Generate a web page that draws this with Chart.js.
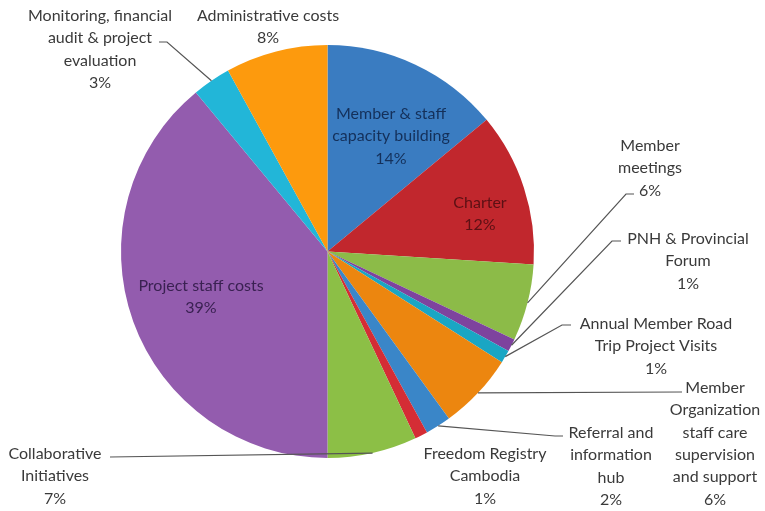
<!DOCTYPE html>
<html>
<head>
<meta charset="utf-8">
<script src="https://cdn.jsdelivr.net/npm/chart.js@4.4.1/dist/chart.umd.min.js"></script>
<style>
    html, body { margin: 0; padding: 0; background: #fff; }
    #wrap { width: 765px; height: 511px; }
</style>
</head>
<body>
<div id="wrap"><canvas id="budget"></canvas></div>
<script>
// budget split, clockwise from 12 o'clock
const categories = [
    'Member & staff capacity building',
    'Charter',
    'Member meetings',
    'PNH & Provincial Forum',
    'Annual Member Road Trip Project Visits',
    'Member Organization staff care supervision and support',
    'Referral and information hub',
    'Freedom Registry Cambodia',
    'Collaborative Initiatives',
    'Project staff costs',
    'Monitoring, financial audit & project evaluation',
    'Administrative costs'
];
const shares = [14, 12, 6, 1, 1, 6, 2, 1, 7, 39, 3, 8];

const sliceColors = [
    '#3a7cc1', '#c1272d', '#8cbb48', '#7e439e', '#1aa6c4', '#ec860f',
    '#3a86c8', '#d42d35', '#8cbf46', '#935cae', '#22b6d8', '#fd9a0d'
];

// how each label wraps on the page
const labelLines = [
    ['Member & staff', 'capacity building'],
    ['Charter'],
    ['Member', 'meetings'],
    ['PNH & Provincial', 'Forum'],
    ['Annual Member Road', 'Trip Project Visits'],
    ['Member', 'Organization', 'staff care', 'supervision', 'and support'],
    ['Referral and', 'information', 'hub'],
    ['Freedom Registry', 'Cambodia'],
    ['Collaborative', 'Initiatives'],
    ['Project staff costs'],
    ['Monitoring, financial', 'audit & project', 'evaluation'],
    ['Administrative costs']
];

// label placement: centre x, first line y, text colour, leader path after the slice anchor
const labelSpots = [
    { x: 391, y: 114, color: '#14305a' },
    { x: 480, y: 203, color: '#5c1014' },
    { x: 650, y: 146, color: '#3a3a3a', path: [[626, 194], [634, 194]] },
    { x: 688, y: 239, color: '#3a3a3a', path: [[612, 241], [621, 241]] },
    { x: 656, y: 324, color: '#3a3a3a', path: [[562, 325], [571, 325]] },
    { x: 715, y: 388, color: '#3a3a3a', path: [[682, 392]] },
    { x: 611, y: 433, color: '#3a3a3a', path: [[555, 436], [563, 436]] },
    { x: 485, y: 454, color: '#3a3a3a' },
    { x: 55, y: 454, color: '#3a3a3a', path: [[110, 457]] },
    { x: 201, y: 286, color: '#3a2152' },
    { x: 100, y: 16, color: '#3a3a3a', path: [[167, 42], [159, 42]] },
    { x: 268, y: 16, color: '#3a3a3a' }
];

const lineGap = 22.3;

const sliceLabels = {
    id: 'sliceLabels',
    afterDatasetsDraw(chart) {
        const ctx = chart.ctx;
        const arcs = chart.getDatasetMeta(0).data;
        ctx.save();

        // leader lines
        ctx.strokeStyle = '#555';
        ctx.lineWidth = 1.2;
        arcs.forEach((arc, i) => {
            const spot = labelSpots[i];
            if (!spot.path) return;
            const mid = (arc.startAngle + arc.endAngle) / 2;
            const ax = arc.x + Math.cos(mid) * arc.outerRadius;
            const ay = arc.y + Math.sin(mid) * arc.outerRadius;
            ctx.beginPath();
            ctx.moveTo(ax, ay);
            spot.path.forEach(p => ctx.lineTo(p[0], p[1]));
            ctx.stroke();
        });

        // label text
        ctx.font = '16px Lato, "Open Sans", sans-serif';
        ctx.textAlign = 'center';
        ctx.textBaseline = 'middle';
        labelLines.forEach((lines, i) => {
            const spot = labelSpots[i];
            ctx.fillStyle = spot.color;
            const rows = lines.concat([shares[i] + '%']);
            rows.forEach((t, k) => {
                ctx.fillText(t, spot.x, spot.y + k * lineGap);
            });
        });
        ctx.restore();
    }
};

const ctx = document.getElementById('budget').getContext('2d');

const budgetChart = new Chart(ctx, {
    type: 'pie',
    data: {
        labels: categories,
        datasets: [{
            data: shares,
            backgroundColor: sliceColors,
            borderWidth: 0
        }]
    },
    options: {
        responsive: true,
        maintainAspectRatio: false,
        animation: false,
        layout: {
            padding: { left: 121, right: 231, top: 45, bottom: 53 }
        },
        plugins: {
            legend: { display: false },
            tooltip: { enabled: false }
        }
    },
    plugins: [sliceLabels]
});
</script>
</body>
</html>
